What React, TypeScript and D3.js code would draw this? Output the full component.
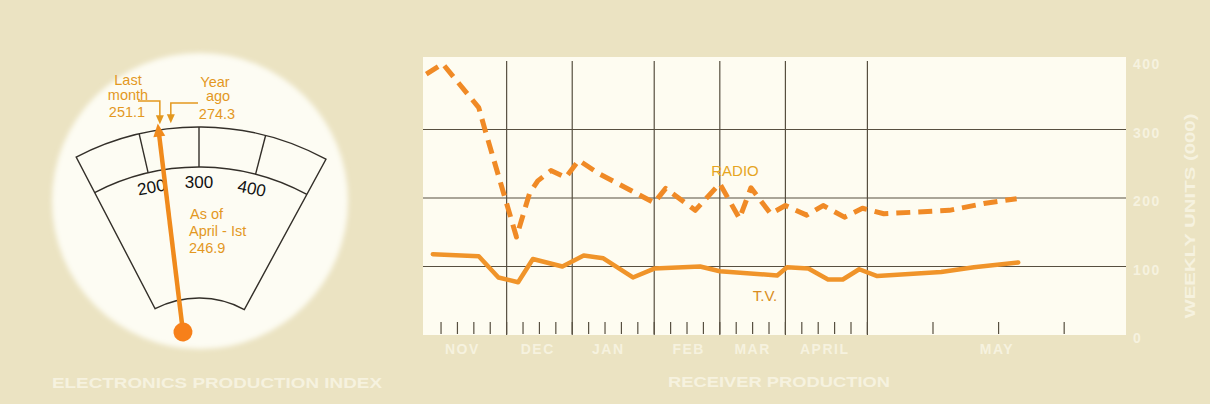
import React from "react";
import * as d3 from "d3";

// receiver production, weekly units (000), x in weeks from first November week
const radioWeeks = [-0.9, 0.1, 2.3, 2.7, 4.6, 5.4, 5.9, 6.7, 7.6, 8.4, 9.6, 13.0, 13.7, 15.5, 17.0, 18.2, 18.9, 20.1, 21.0, 22.3, 23.3, 24.6, 25.7, 27.0, 31.0, 33.1, 35.1];
const radioValues = [381, 396, 332, 298, 143, 207, 225, 240, 230, 255, 236, 193, 214, 182, 221, 170, 215, 177, 189, 175, 189, 172, 185, 177, 182, 192, 199];
const tvWeeks = [-0.5, 2.3, 3.5, 4.7, 5.6, 7.4, 8.7, 9.9, 11.7, 13.0, 15.8, 17.0, 20.5, 21.1, 22.4, 23.6, 24.5, 25.5, 26.6, 30.5, 32.5, 35.2];
const tvValues = [118, 115, 84, 77, 111, 100, 116, 112, 84, 97, 100, 93, 87, 99, 97, 81, 81, 96, 86, 92, 99, 106];

const yTicks = [0, 100, 200, 300, 400];
const gridValues = [100, 200, 300];
const monthBoundaryWeeks = [4, 8, 13, 17, 21, 26];
const minorTickWeeks = [0, 1, 2, 3, 4, 5, 6, 7, 8, 9, 10, 11, 12, 13, 14, 15, 16, 17, 18, 19, 20, 21, 22, 23, 24, 25, 26, 30, 34, 38];
const monthLabels = ["NOV", "DEC", "JAN", "FEB", "MAR", "APRIL", "MAY"];
const monthLabelWeeks = [1.3, 5.9, 10.2, 15.1, 19.0, 23.4, 33.9];

// electronics production index dial
const dialTicks = [200, 300, 400];
const dialEnds = [100, 500];
const indexNow = 246.9;
const indexLastMonth = 251.1;
const indexYearAgo = 274.3;

const W = 1210, H = 404;
const bg = "#ebe3c2";
const pale = "#f6f2df";
const gridColor = "#574f40";
const orangeText = "#e3981f";
const sans = "'Liberation Sans', Arial, sans-serif";

const rad = (d: number) => (d * Math.PI) / 180;

export default function App() {
  const x = d3.scaleLinear().domain([-1.1, 41.77]).range([423, 1126]);
  const y = d3.scaleLinear().domain([0, 400]).range([335, 61]);

  const radioLine = d3.line<number>().x((d, i) => x(radioWeeks[i])).y(d => y(d))(radioValues) || "";
  const tvLine = d3.line<number>().x((d, i) => x(tvWeeks[i])).y(d => y(d))(tvValues) || "";

  // dial
  const angle = d3.scaleLinear().domain([100, 200, 300, 400, 500]).range([-27.5, -13, 0, 14.5, 28.5]);
  const P = [199, 393];
  const B = [183, 332];
  const arc = d3.arc<any>();
  const sector = arc({ innerRadius: 95, outerRadius: 266, startAngle: rad(angle(dialEnds[0])), endAngle: rad(angle(dialEnds[1])) }) || "";
  const midArc = arc({ innerRadius: 226, outerRadius: 226, startAngle: rad(angle(dialEnds[0])), endAngle: rad(angle(dialEnds[1])) }) || "";
  const polar = (c: number[], r: number, a: number) => [c[0] + r * Math.sin(rad(a)), c[1] - r * Math.cos(rad(a))];
  const needleLen = 206;
  const lm = polar(B, 209, angle(indexLastMonth));
  const ya = polar(B, 209, angle(indexYearAgo));

  return (
    <svg width={W} height={H} style={{ position: "absolute", left: 0, top: 0, display: "block" }}>
      <defs>
        <filter id="soft" x="-20%" y="-20%" width="140%" height="140%">
          <feGaussianBlur stdDeviation="2.5" />
        </filter>
      </defs>
      <rect x={0} y={0} width={W} height={H} fill={bg} />

      {/* gauge */}
      <circle cx={200} cy={201} r={148} fill="#fdfcf3" filter="url(#soft)" />
      <g transform={`translate(${P[0]},${P[1]})`} fill="none" stroke="#332f29" strokeWidth={1.4}>
        <path d={sector} />
        <path d={midArc} />
        {dialTicks.map(v => {
          const a = polar([0, 0], 226, angle(v));
          const b = polar([0, 0], 266, angle(v));
          return <line key={v} x1={a[0]} y1={a[1]} x2={b[0]} y2={b[1]} />;
        })}
      </g>
      {dialTicks.map(v => {
        const p = polar(P, 211, angle(v));
        return (
          <text key={v} x={p[0]} y={p[1]} transform={`rotate(${angle(v) * 0.8},${p[0]},${p[1]})`}
            textAnchor="middle" dominantBaseline="central" fontFamily={sans} fontSize={17} fill="#111">{v}</text>
        );
      })}

      <g fontFamily={sans} fontSize={14.5} fill={orangeText}>
        <text x={128} y={85} textAnchor="middle">Last</text>
        <text x={128} y={100} textAnchor="middle">month</text>
        <text x={127} y={117} textAnchor="middle">{indexLastMonth.toFixed(1)}</text>
        <text x={215} y={87} textAnchor="middle">Year</text>
        <text x={218} y={101} textAnchor="middle">ago</text>
        <text x={217} y={119} textAnchor="middle">{indexYearAgo.toFixed(1)}</text>
        <text x={190} y={219}>As of</text>
        <text x={189} y={236}>April - Ist</text>
        <text x={189} y={253}>{indexNow.toFixed(1)}</text>
      </g>
      <g stroke={orangeText} strokeWidth={1.5} fill="none">
        <path d={`M138,101 H${lm[0]} V${lm[1] - 7}`} />
        <path d={`M198,103 H${ya[0]} V${ya[1] - 7}`} />
      </g>
      <g fill={orangeText}>
        <polygon points={`${lm[0]},${lm[1]} ${lm[0] - 4},${lm[1] - 9} ${lm[0] + 4},${lm[1] - 9}`} />
        <polygon points={`${ya[0]},${ya[1]} ${ya[0] - 4},${ya[1] - 9} ${ya[0] + 4},${ya[1] - 9}`} />
      </g>
      <g transform={`translate(${B[0]},${B[1]}) rotate(${angle(indexNow)})`}>
        <line x1={0} y1={0} x2={0} y2={-needleLen + 6} stroke="#f08a1c" strokeWidth={4.5} />
        <polygon points={`0,${-needleLen - 4} -6,${-needleLen + 9} 6,${-needleLen + 9}`} fill="#f08a1c" />
        <circle r={9.5} fill="#f7801a" />
      </g>
      <text x={217} y={388} textAnchor="middle" fontFamily={sans} fontWeight="bold" fontSize={15}
        fill={pale} textLength={330} lengthAdjust="spacingAndGlyphs">ELECTRONICS PRODUCTION INDEX</text>

      {/* receiver production chart */}
      <rect x={423} y={57} width={703} height={278} fill="#fefcf1" />
      <g stroke={gridColor} strokeWidth={1.2}>
        {gridValues.map(v => <line key={v} x1={423} x2={1126} y1={y(v)} y2={y(v)} />)}
        {monthBoundaryWeeks.map(w => <line key={w} x1={x(w)} x2={x(w)} y1={61} y2={335} />)}
        {minorTickWeeks.map(w => <line key={"t" + w} x1={x(w)} x2={x(w)} y1={322} y2={334} />)}
      </g>
      <path d={tvLine} fill="none" stroke="#f0942a" strokeWidth={4.5} strokeLinejoin="round" strokeLinecap="round" />
      <path d={radioLine} fill="none" stroke="#f08a26" strokeWidth={5} strokeDasharray="14 8" strokeLinejoin="round" />
      <text x={735} y={176} textAnchor="middle" fontFamily={sans} fontSize={15} fill="#e6a51e">RADIO</text>
      <text x={765} y={301} textAnchor="middle" fontFamily={sans} fontSize={15} fill="#d98c22">T.V.</text>

      <g fontFamily={sans} fontWeight="bold" fontSize={14} fill={pale} letterSpacing={1.5}>
        {monthLabels.map((m, i) => (
          <text key={m} x={x(monthLabelWeeks[i])} y={354} textAnchor="middle">{m}</text>
        ))}
        {yTicks.map(v => (
          <text key={v} x={1133} y={y(v) + 8}>{v}</text>
        ))}
      </g>
      <text transform="translate(1195,216) rotate(-90)" textAnchor="middle" fontFamily={sans} fontWeight="bold"
        fontSize={14} fill={pale} textLength={205} lengthAdjust="spacingAndGlyphs">WEEKLY UNITS (000)</text>
      <text x={779} y={387} textAnchor="middle" fontFamily={sans} fontWeight="bold" fontSize={15}
        fill={pale} textLength={222} lengthAdjust="spacingAndGlyphs">RECEIVER PRODUCTION</text>
    </svg>
  );
}
